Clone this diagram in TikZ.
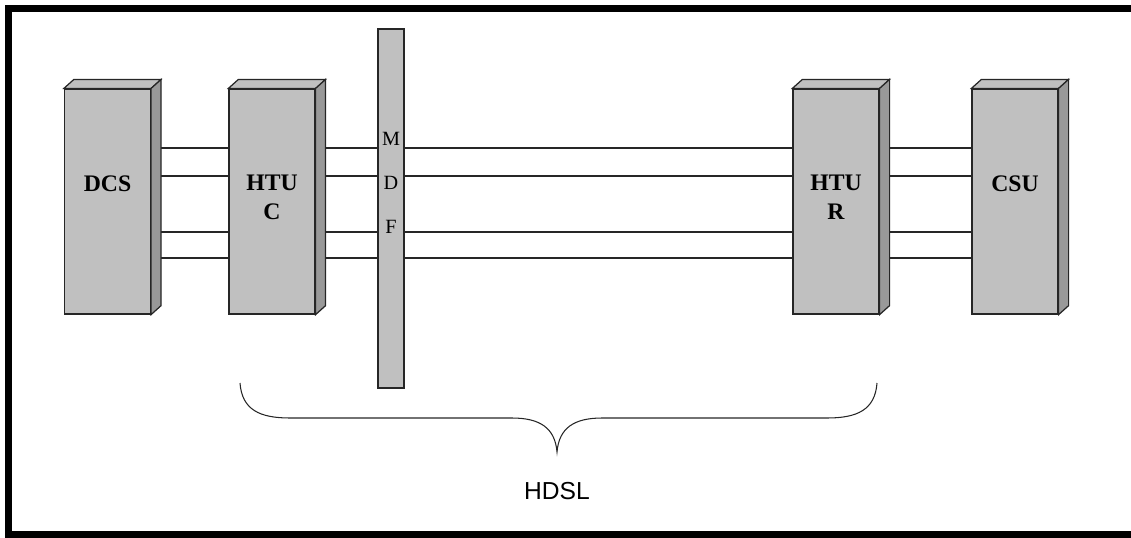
\documentclass[tikz,border=0pt]{standalone}
\usepackage{fontspec}
\setmainfont{Liberation Serif}
\newfontfamily\hdslfont{Liberation Sans}
\usepackage{xcolor}
\usetikzlibrary{backgrounds,calc}
\definecolor{boxgray}{HTML}{C0C0C0}
\definecolor{sidegray}{HTML}{999999}

\begin{document}
\begin{tikzpicture}[
  x=0.02cm, y=-0.02cm,
  unit/.style={rectangle,draw=black!85,fill=boxgray,line width=0.7pt,minimum width=1.72cm,minimum height=4.5cm,inner sep=0pt},
  unitlabel/.style={font=\fontsize{13.5}{16.5}\selectfont\bfseries,align=center},
  face/.style={draw=black!85,line width=0.7pt},
  wire/.style={line width=0.8pt,black!85},
  brace/.style={line width=0.6pt,black!85},
  frame/.style={line width=4.2pt}
]
\useasboundingbox (0,0) rectangle (1131,537);
\draw[frame] (1140,8.5) -- (8.5,8.5) -- (8.5,534.5) -- (1140,534.5);

\node[unit,label={[unitlabel,yshift=0.35cm]center:DCS}] (dcs) at (107.5,201.5) {};
\node[unit,label={[unitlabel,yshift=0.08cm]center:HTU\\C}] (htuc) at (272,201.5) {};
\node[unit,label={[unitlabel,yshift=0.08cm]center:HTU\\R}] (htur) at (836,201.5) {};
\node[unit,label={[unitlabel,yshift=0.35cm]center:CSU}] (csu) at (1015,201.5) {};
\foreach \n in {dcs,htuc,htur,csu} {
  \filldraw[face,fill=boxgray] (\n.north west) -- ++(10,-9) -- ($(\n.north east)+(10,-9)$) -- (\n.north east) -- cycle;
  \filldraw[face,fill=sidegray] (\n.north east) -- ++(10,-9) -- ($(\n.south east)+(10,-9)$) -- (\n.south east) -- cycle;
}

\node[rectangle,draw=black!85,fill=boxgray,line width=0.7pt,minimum width=0.52cm,minimum height=7.18cm,inner sep=0pt,
  label={[font=\fontsize{11.5}{25}\selectfont,align=center,yshift=0.52cm]center:M\\D\\F}] (mdf) at (391,208.5) {};

\begin{scope}[on background layer]
\foreach \y in {148,176,232,258} {
  \draw[wire] (dcs.east |- 0,\y) -- (htuc.west |- 0,\y);
  \draw[wire] (htuc.east |- 0,\y) -- (htur.west |- 0,\y);
  \draw[wire] (htur.east |- 0,\y) -- (csu.west |- 0,\y);
}
\end{scope}

\coordinate (bl) at (240,383);
\coordinate (tip) at (557,452);
\coordinate (br) at (877,383);
\draw[brace] (bl) .. controls (242,410) and (260,418) .. (290,418) -- (512,418)
  .. controls (540,418) and (555,428) .. (tip)
  .. controls (559,428) and (574,418) .. (602,418) -- (827,418)
  .. controls (857,418) and (875,410) .. (br);
\node[font=\hdslfont\fontsize{14}{16}\selectfont] (hdsl) at (557,491) {HDSL};
\end{tikzpicture}
\end{document}
